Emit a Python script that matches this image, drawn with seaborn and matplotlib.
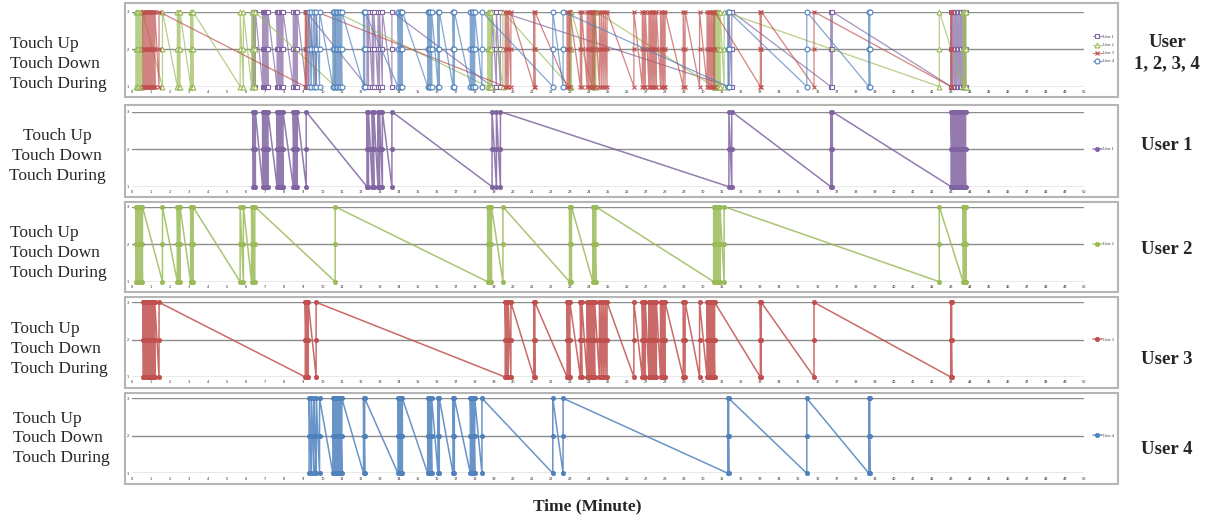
import matplotlib
matplotlib.use("Agg")
import matplotlib.pyplot as plt
import seaborn as sns
import pandas as pd
from matplotlib.patches import Rectangle
from matplotlib.colors import to_rgba

sns.set_theme(style='white')
plt.rcParams['font.family'] = ['Liberation Serif', 'DejaVu Serif']

# states: 1 = touch during, 2 = touch down, 3 = touch up
states = [1, 2, 3]
users = ['User 1', 'User 2', 'User 3', 'User 4']
colors = ['#8064A2', '#9BBB59', '#C0504D', '#4F81BD']
combo_markers = ['s', '^', 'x', 'o']
right_labels = ['User\n1, 2, 3, 4', 'User 1', 'User 2', 'User 3', 'User 4']

# touch event times (minute)
user1_times = [6.35, 6.42, 6.48, 6.86, 6.92, 6.97, 7.02, 7.08, 7.14,
               7.62, 7.68, 7.74, 7.80, 7.86, 7.93, 8.47, 8.55, 8.62, 8.68,
               9.15, 12.34, 12.42, 12.62, 12.70, 12.92, 13.00, 13.15, 13.65,
               18.91, 19.14, 19.35, 31.35, 31.50, 36.70, 36.78,
               43.02, 43.10, 43.18, 43.25, 43.32, 43.40, 43.48, 43.55,
               43.62, 43.70, 43.78]
user2_times = [0.20, 0.27, 0.33, 0.40, 0.47, 0.55, 1.60, 2.38, 2.45, 2.52,
               3.08, 3.12, 3.17, 3.20, 5.68, 5.85, 6.28, 6.35, 6.45, 10.67,
               18.68, 18.75, 18.82, 18.88, 19.48, 22.98, 23.03, 23.08,
               24.20, 24.28, 24.36, 30.55, 30.60, 30.65, 30.70, 30.75,
               30.82, 30.88, 31.10, 42.40, 43.65, 43.70, 43.75, 43.80]
user3_times = [0.58, 0.63, 0.68, 0.72, 0.77, 0.82, 0.86, 0.90, 0.95, 1.00,
               1.05, 1.10, 1.15, 1.20, 1.42, 9.10, 9.18, 9.26, 9.67,
               19.60, 19.68, 19.76, 19.90, 21.10, 21.16, 22.85, 22.92, 23.00,
               23.55, 23.62, 23.90, 23.98, 24.06, 24.14, 24.22, 24.30,
               24.55, 24.65, 24.75, 24.85, 24.95, 26.36, 26.80, 26.88, 26.96,
               27.15, 27.22, 27.30, 27.38, 27.46, 27.54, 27.76, 27.84, 27.92,
               28.00, 28.95, 29.05, 29.81, 30.20, 30.28, 30.36, 30.44, 30.52,
               30.60, 33.00, 33.05, 35.82, 43.00, 43.05]
user4_times = [9.30, 9.42, 9.55, 9.68, 9.85, 10.55, 10.62, 10.70, 10.78,
               10.86, 10.94, 11.02, 12.16, 12.22, 13.97, 14.05, 14.12, 14.20,
               15.53, 15.60, 15.67, 15.74, 16.07, 16.14, 16.86, 16.93,
               17.77, 17.85, 17.93, 18.00, 18.38, 22.10, 22.64, 31.30, 31.34,
               35.44, 38.70, 38.75]
all_times = [user1_times, user2_times, user3_times, user4_times]


def build(times):
    rows = [(t, s) for t in times for s in states]
    return pd.DataFrame(rows, columns=['time', 'state'])


frames = [build(t) for t in all_times]

W, H = 1211, 518
fig = plt.figure(figsize=(W / 100, H / 100), dpi=100)
fig.patch.set_facecolor('white')


def fx(px):
    return px / W


def fy(py):
    return 1 - py / H


# pixel positions (top/bottom of plot area, frame, label centers)
panel_px = [(11.7, 86.5), (111.7, 186.7), (206.7, 281.7), (302.3, 377), (398.3, 473.3)]
frame_px = [(3, 97), (105, 197), (202, 292), (297, 388), (393, 484)]
left_lab_y = [64, 156, 253, 349, 438.5]
left_lab_x = [10, 57, 10, 11, 13]
left_lab_ha = ['left', 'center', 'left', 'left', 'left']
right_lab_y = [53, 145, 250, 360, 449]

for i in range(5):
    top, bot = panel_px[i]
    ax = fig.add_axes([fx(132), fy(bot), fx(1084) - fx(132), (bot - top) / H])
    ax.set_facecolor('none')
    for y in states:
        ax.axhline(y, color='#8c8c8c', lw=1, zorder=0)

    if i == 0:
        for k in range(4):
            sns.lineplot(data=frames[k], x='time', y='state', sort=False,
                         estimator=None, ax=ax, label=users[k],
                         color=to_rgba(colors[k], 0.7), lw=0.9,
                         marker=combo_markers[k], markersize=3.5,
                         mfc='white' if combo_markers[k] != 'x' else colors[k],
                         mec=colors[k], mew=0.8, clip_on=False)
    else:
        k = i - 1
        sns.lineplot(data=frames[k], x='time', y='state', sort=False,
                     estimator=None, ax=ax, label=users[k],
                     color=to_rgba(colors[k], 0.85), lw=1.1,
                     marker='o', markersize=3, mfc=colors[k],
                     mec=colors[k], mew=0.6, clip_on=False)

    ax.set_xlim(0, 50)
    ax.set_ylim(1, 3)
    ax.set_xticks(range(51))
    ax.set_xticklabels([str(v) for v in range(51)], fontsize=2.5,
                       family='DejaVu Sans')
    ax.set_yticks(states)
    ax.set_yticklabels([str(v) for v in states], fontsize=2.5,
                       family='DejaVu Sans')
    ax.tick_params(axis='both', length=1.5, width=0.5, color='#8c8c8c', pad=1)
    ax.set_xlabel('')
    ax.set_ylabel('')
    for s in ax.spines.values():
        s.set_visible(False)
    ax.legend(loc='center left', bbox_to_anchor=(1.005, 0.5), frameon=False,
              fontsize=3, handlelength=2.2, labelspacing=1.0, handletextpad=0.3)

    ftop, fbot = frame_px[i]
    fig.add_artist(Rectangle((fx(125), fy(fbot)), fx(1118) - fx(125),
                             (fbot - ftop) / H, transform=fig.transFigure,
                             fill=False, ec='#b5b5b5', lw=1.5))

    fig.text(fx(left_lab_x[i]), fy(left_lab_y[i]),
             'Touch Up\nTouch Down\nTouch During',
             ha=left_lab_ha[i], va='center', fontsize=12.5,
             linespacing=1.32, multialignment=left_lab_ha[i])
    fig.text(fx(1167), fy(right_lab_y[i]), right_labels[i], ha='center',
             va='center', fontsize=13.5, fontweight='bold', linespacing=1.3)

fig.text(fx(587), fy(506), 'Time (Minute)', ha='center', va='center',
         fontsize=12.5, fontweight='bold')

plt.savefig('out.png', dpi=100)
